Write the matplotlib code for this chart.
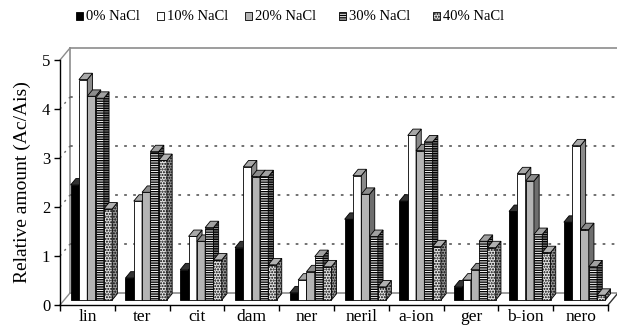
import matplotlib
matplotlib.use('Agg')
import matplotlib.pyplot as plt
from matplotlib.patches import Rectangle, Polygon

plt.rcParams['font.family'] = ['Liberation Serif', 'DejaVu Serif']
plt.rcParams['hatch.linewidth'] = 1.0

compounds = ['lin', 'ter', 'cit', 'dam', 'ner', 'neril', 'a-ion', 'ger', 'b-ion', 'nero']
series = ['0% NaCl', '10% NaCl', '20% NaCl', '30% NaCl', '40% NaCl']
nacl_0 = [2.35, 0.45, 0.62, 1.07, 0.15, 1.65, 2.02, 0.27, 1.81, 1.59]
nacl_10 = [4.50, 2.02, 1.30, 2.72, 0.41, 2.54, 3.36, 0.41, 2.58, 3.15]
nacl_20 = [4.16, 2.20, 1.20, 2.52, 0.58, 2.16, 3.05, 0.62, 2.43, 1.44]
nacl_30 = [4.12, 3.03, 1.48, 2.52, 0.89, 1.30, 3.23, 1.20, 1.34, 0.68]
nacl_40 = [1.86, 2.85, 0.82, 0.72, 0.68, 0.27, 1.09, 1.07, 0.97, 0.10]
values = [nacl_0, nacl_10, nacl_20, nacl_30, nacl_40]
yticks = [0, 1, 2, 3, 4, 5]

# (front, side, top, hatch) for each series
styles = [
    ('black', 'black', '#333333', None),
    ('white', '#8a8a8a', '#a8a8a8', None),
    ('#b4b4b4', '#6e6e6e', '#8c8c8c', None),
    ('white', '#8a8a8a', '#a0a0a0', '-------'),
    ('#e4e4e4', '#9a9a9a', '#b0b0b0', '......'),
]

fig = plt.figure(figsize=(6.17, 3.29), dpi=100)
ax = fig.add_axes([60 / 617, 24 / 329, 548 / 617, 245 / 329])
ax.set_xlim(0, 10)
ax.set_ylim(0, 5)

# fake 3d: wall depth, bar front offset, bar depth (data units)
wx, wy = 0.1825, 0.245
fx, fy = 0.073, 0.10
bx, by = 0.095, 0.13
wall = '#8c8c8c'
n = len(compounds)

def seg(p, q, **kw):
    ax.plot([p[0], q[0]], [p[1], q[1]], clip_on=False, **kw)

seg((wx, wy), (wx, 5 + wy), color=wall, lw=1.2, zorder=1)
seg((wx, 5 + wy), (n + wx, 5 + wy), color=wall, lw=1.2, zorder=1)
seg((0, 5), (wx, 5 + wy), color=wall, lw=1.0, zorder=1)
seg((wx, wy), (n + wx, wy), color=wall, lw=1.2, zorder=1)
seg((0, 0), (wx, wy), color=wall, lw=1.0, zorder=1)
seg((n, 0), (n + wx, wy), color='#333333', lw=1.0, zorder=1)
for v in yticks[1:-1]:
    seg((wx, v + wy), (n + wx, v + wy), color='#666666', lw=1.3,
        ls=(0, (1.5, 3.5)), zorder=1)
    seg((0, v), (wx, v + wy), color='#666666', lw=1.0,
        ls=(0, (1.5, 3.5)), zorder=1)

w = 0.1515
margin = (1 - w * len(series)) / 2
z = 2
for c in range(n):
    for s, vals in enumerate(values):
        front, side, top, hatch = styles[s]
        x0 = c + margin + s * w + fx
        y0 = fy
        h = vals[c]
        kw = dict(edgecolor='black', lw=0.6, hatch=hatch, clip_on=False)
        ax.add_patch(Rectangle((x0, y0), w, h, facecolor=front, zorder=z, **kw))
        ax.add_patch(Polygon([(x0 + w, y0), (x0 + w + bx, y0 + by),
                              (x0 + w + bx, y0 + h + by), (x0 + w, y0 + h)],
                             facecolor=side, zorder=z, **kw))
        ax.add_patch(Polygon([(x0, y0 + h), (x0 + bx, y0 + h + by),
                              (x0 + w + bx, y0 + h + by), (x0 + w, y0 + h)],
                             facecolor=top, zorder=z, edgecolor='black',
                             lw=0.6, clip_on=False))
        z += 1

for sp in ['top', 'right']:
    ax.spines[sp].set_visible(False)
for sp in ['left', 'bottom']:
    ax.spines[sp].set_color('black')
    ax.spines[sp].set_linewidth(1.0)
    ax.spines[sp].set_zorder(200)

ax.set_yticks(yticks)
ax.set_yticklabels([str(t) for t in yticks], fontsize=12)
ax.set_xticks(range(n + 1))
ax.set_xticklabels([])
ax.set_xticks([c + 0.5 for c in range(n)], minor=True)
ax.set_xticklabels(compounds, minor=True, fontsize=12.5)
ax.tick_params(axis='x', which='minor', length=0, pad=3)
ax.tick_params(axis='both', which='major', length=4, width=1.0, direction='out')
ax.tick_params(axis='y', pad=3)
ax.set_ylabel('Relative amount (Ac/Ais)', fontsize=14, labelpad=8)

# legend row across the top
leg_sq = [76, 157, 245, 339, 433]
for s, name in enumerate(series):
    front, side, top, hatch = styles[s]
    fig.add_artist(Rectangle((leg_sq[s] / 617, 1 - 20 / 329), 7 / 617, 8 / 329,
                             transform=fig.transFigure, facecolor=front,
                             edgecolor='black', lw=0.6, hatch=hatch))
    fig.text((leg_sq[s] + 10) / 617, 1 - 16 / 329, name, fontsize=10.5,
             ha='left', va='center')

fig.savefig('out.png', dpi=100)
